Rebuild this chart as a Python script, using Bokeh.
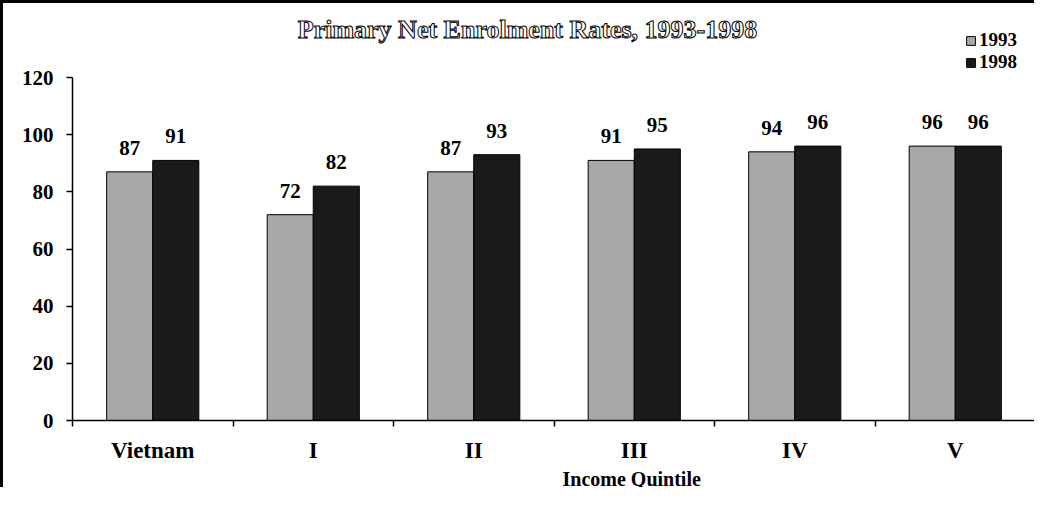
import numpy as np
from bokeh.plotting import figure
from bokeh.models import (ColumnDataSource, Range1d, FixedTicker, LabelSet, Label,
                          Legend, LegendItem, Title)
from bokeh.embed import file_html
from bokeh.resources import INLINE

categories = ["Vietnam", "I", "II", "III", "IV", "V"]
rates_1993 = [87, 72, 87, 91, 94, 96]
rates_1998 = [91, 82, 93, 95, 96, 96]
series_names = ["1993", "1998"]
y_ticks = [0, 20, 40, 60, 80, 100, 120]
title_text = "Primary Net Enrolment Rates, 1993-1998"
x_title = "Income Quintile"

FONT = "Liberation Serif"
BW = 0.287

centers = np.arange(len(categories)) + 0.5
src = ColumnDataSource(dict(
    x93=centers - BW / 2, x98=centers + BW / 2,
    v93=rates_1993, v98=rates_1998,
    t93=[str(v) for v in rates_1993], t98=[str(v) for v in rates_1998],
))

p = figure(width=1034, height=487, output_backend="svg", toolbar_location=None,
           x_range=Range1d(0, len(categories)), y_range=Range1d(0, 142.75),
           min_border_left=69, min_border_right=2, min_border_top=9, min_border_bottom=70)
p.styles = {"border-left": "3px solid black", "border-top": "3px solid black"}
p.outline_line_color = None
p.grid.grid_line_color = None
p.background_fill_color = "white"

r93 = p.vbar(x="x93", top="v93", width=BW, source=src, fill_color="#a8a8a8",
             line_color="black", line_width=1)
r98 = p.vbar(x="x98", top="v98", width=BW, source=src, fill_color="#1a1a1a",
             line_color="black", line_width=1)

for xc, tc in (("x93", "t93"), ("x98", "t98")):
    p.add_layout(LabelSet(x=xc, y=tc.replace("t", "v"), text=tc, source=src,
                          text_align="center", text_baseline="alphabetic", y_offset=17,
                          text_font=FONT, text_font_size="21px", text_font_style="bold",
                          text_color="black"))

# y axis
ya = p.yaxis[0]
ya.ticker = FixedTicker(ticks=y_ticks)
ya.bounds = (0, 120)
ya.minor_tick_line_color = None
ya.major_tick_out = 6
ya.major_tick_in = 0
ya.major_label_standoff = 13
ya.axis_line_width = 1.5
ya.major_tick_line_width = 1.5
ya.major_label_text_font = FONT
ya.major_label_text_font_size = "21px"
ya.major_label_text_font_style = "bold"
ya.major_label_text_color = "black"

# x axis
xa = p.xaxis[0]
xa.ticker = FixedTicker(ticks=list(centers), minor_ticks=list(range(len(categories) + 1)))
xa.major_label_overrides = {float(c): name for c, name in zip(centers, categories)}
xa.major_tick_out = 0
xa.major_tick_in = 0
xa.minor_tick_out = 6
xa.minor_tick_in = 0
xa.minor_tick_line_color = "black"
xa.minor_tick_line_width = 1.5
xa.axis_line_width = 1.5
xa.major_label_standoff = 11
xa.major_label_text_font = FONT
xa.major_label_text_font_size = "23px"
xa.major_label_text_font_style = "bold"
xa.major_label_text_color = "black"

# x-axis title, shifted right so it sits under the "III" category as in the original
p.add_layout(Title(text=x_title, align="left", offset=490, standoff=0,
                   text_font=FONT, text_font_size="20px", text_font_style="bold",
                   text_color="black"), "below")

p.add_layout(Label(x=2.835, y=136.7, text=title_text, text_align="center",
                   text_baseline="middle", text_font=FONT, text_font_size="26px",
                   text_font_style="bold", text_color="white",
                   text_outline_color="black"))

for i, (name, rend) in enumerate(zip(series_names, [r93, r98])):
    p.add_layout(Legend(items=[LegendItem(label=name, renderers=[rend])],
                        location=(893, 369 - 22 * i), border_line_color=None,
                        background_fill_alpha=0, padding=0, margin=0, spacing=0,
                        label_height=22, glyph_height=11, glyph_width=11, label_standoff=3,
                        label_text_font=FONT, label_text_font_size="19px",
                        label_text_font_style="bold", label_text_color="black"))

open("out.html", "w").write(file_html(p, INLINE))
